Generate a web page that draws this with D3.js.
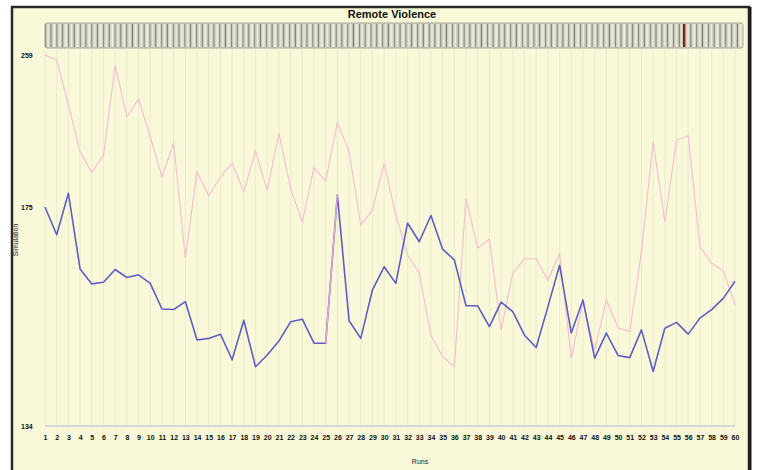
<!DOCTYPE html>
<html>
<head>
<meta charset="utf-8">
<script src="https://cdn.jsdelivr.net/npm/d3@7"></script>
<style>
  html, body { margin: 0; padding: 0; background: #ffffff; }
  svg { display: block; }
</style>
</head>
<body>
<div id="chart"></div>
<script>
// -------------------------------
// Remote Violence - simulation runs (line chart)
// -------------------------------

const runs = [1, 2, 3, 4, 5, 6, 7, 8, 9, 10, 11, 12, 13, 14, 15, 16, 17, 18, 19, 20,
  21, 22, 23, 24, 25, 26, 27, 28, 29, 30, 31, 32, 33, 34, 35, 36, 37, 38, 39, 40,
  41, 42, 43, 44, 45, 46, 47, 48, 49, 50, 51, 52, 53, 54, 55, 56, 57, 58, 59, 60];

// blue series
const simulated = [175, 169.8, 182.6, 163.4, 160.6, 160.9, 163.3, 161.8, 162.3, 160.7,
  155.9, 155.8, 157.3, 150.1, 150.4, 151.2, 146.4, 153.8, 145.1, 147.3,
  149.9, 153.5, 154.0, 149.5, 149.5, 181.6, 153.7, 150.4, 159.5, 163.8,
  160.7, 172.0, 168.5, 173.4, 167.1, 165.1, 156.5, 156.5, 152.6, 157.2,
  155.4, 151.0, 148.7, 156.3, 164.1, 151.4, 157.6, 146.7, 151.4, 147.2,
  146.8, 152.0, 144.2, 152.3, 153.4, 151.2, 154.2, 155.8, 157.9, 161.1];

// pink series
const observed = [259, 256.2, 231.4, 205.6, 194.0, 203.7, 253.1, 224.9, 234.5, 213.8,
  191.7, 210.2, 165.4, 194.5, 181.1, 191.7, 199.1, 183.5, 205.9, 184.0,
  215.7, 185.3, 172.2, 196.7, 189.4, 221.8, 205.6, 171.6, 174.4, 199.1,
  173.5, 166.0, 162.6, 151.0, 147.0, 145.1, 179.8, 167.3, 169.0, 152.0,
  162.6, 165.3, 165.3, 161.3, 166.3, 146.7, 157.3, 148.2, 157.6, 152.4,
  151.7, 166.6, 211.1, 172.2, 212.0, 214.4, 167.6, 164.5, 163.0, 156.7];

const yTicks = [134, 175, 259];
const selectedRun = 56;

const W = 761, H = 470;

const svg = d3.select("#chart")
  .append("svg")
  .attr("width", W)
  .attr("height", H);

const defs = svg.append("defs");
const cellGrad = defs.append("linearGradient")
  .attr("id", "cellGrad")
  .attr("x1", "0").attr("x2", "1").attr("y1", "0").attr("y2", "0");
[["0%", "#5f5f55"], ["9%", "#c4c4b4"], ["28%", "#ecece0"], ["46%", "#bdbdad"],
 ["52%", "#77776b"], ["60%", "#cfcfbf"], ["80%", "#efefe4"], ["100%", "#c2c2b2"]]
  .forEach(s => cellGrad.append("stop").attr("offset", s[0]).attr("stop-color", s[1]));

// frame
svg.append("rect")
  .attr("x", 12).attr("y", 7)
  .attr("width", 737).attr("height", 470)
  .attr("fill", "#f9f8d8")
  .attr("stroke", "#2a2a2a")
  .attr("stroke-width", 2.5);
svg.append("line")
  .attr("x1", 750).attr("x2", 750).attr("y1", 7).attr("y2", H)
  .attr("stroke", "#1c1c24").attr("stroke-width", 3);

// Title
svg.append("text")
  .attr("x", 392).attr("y", 18)
  .attr("text-anchor", "middle")
  .style("font-family", "Liberation Sans, Arial, sans-serif")
  .style("font-size", "11px")
  .style("font-weight", "bold")
  .style("fill", "#111")
  .text("Remote Violence");

// Scales
const x = d3.scalePoint()
  .domain(runs)
  .range([45, 735]);

const y = d3.scaleLinear()
  .domain([134, 175, 259])
  .range([426, 207, 55]);

// run strip
const strip = d3.scaleBand()
  .domain(runs)
  .range([45, 743]);

const stripG = svg.append("g");
stripG.append("rect")
  .attr("x", 45).attr("y", 23)
  .attr("width", 698).attr("height", 25)
  .attr("rx", 2)
  .attr("fill", "#d6d6c6")
  .attr("stroke", "#a4a494");
stripG.selectAll(".cell")
  .data(runs)
  .enter()
  .append("rect")
  .attr("class", "cell")
  .attr("x", d => strip(d))
  .attr("y", 24)
  .attr("width", strip.bandwidth())
  .attr("height", 23)
  .attr("fill", "url(#cellGrad)");
stripG.append("rect")
  .attr("x", strip(selectedRun) - 2)
  .attr("y", 24)
  .attr("width", 2)
  .attr("height", 23)
  .attr("fill", "#7a1010");

// vertical grid
svg.append("g")
  .selectAll("line")
  .data(runs)
  .enter()
  .append("line")
  .attr("x1", d => x(d)).attr("x2", d => x(d))
  .attr("y1", 50).attr("y2", y(134))
  .attr("stroke", "#ebedd3")
  .attr("stroke-width", 1.2);

// baseline
svg.append("line")
  .attr("x1", x(1)).attr("x2", x(60))
  .attr("y1", y(134)).attr("y2", y(134))
  .attr("stroke", "#b6b6dc")
  .attr("stroke-width", 1.2);

// X axis
svg.append("g")
  .attr("transform", `translate(0, ${y(134)})`)
  .call(d3.axisBottom(x).tickSize(0).tickPadding(9))
  .call(g => g.select(".domain").remove())
  .selectAll("text")
  .style("font-family", "Liberation Sans, Arial, sans-serif")
  .style("font-size", "7px")
  .style("font-weight", "bold")
  .style("fill", "#111");

// Y axis
svg.append("g")
  .attr("transform", "translate(21, 0)")
  .call(d3.axisLeft(y).tickValues(yTicks).tickSize(0))
  .call(g => g.select(".domain").remove())
  .selectAll("text")
  .attr("x", 0)
  .attr("text-anchor", "start")
  .style("font-family", "Liberation Sans, Arial, sans-serif")
  .style("font-size", "7px")
  .style("font-weight", "bold")
  .style("fill", "#111");

// axis labels
svg.append("text")
  .attr("transform", "rotate(-90)")
  .attr("x", -240).attr("y", 18)
  .attr("text-anchor", "middle")
  .style("font-family", "Liberation Sans, Arial, sans-serif")
  .style("font-size", "7px")
  .style("fill", "#222")
  .text("Simulation");

svg.append("text")
  .attr("x", 420).attr("y", 464)
  .attr("text-anchor", "middle")
  .style("font-family", "Liberation Sans, Arial, sans-serif")
  .style("font-size", "7px")
  .style("fill", "#222")
  .text("Runs");

// Lines
const line = d3.line()
  .x((d, i) => x(runs[i]))
  .y(d => y(d));

svg.append("path")
  .datum(observed)
  .attr("fill", "none")
  .attr("stroke", "#f5bccf")
  .attr("stroke-width", 1.1)
  .attr("d", line);

svg.append("path")
  .datum(simulated)
  .attr("fill", "none")
  .attr("stroke", "#5e5ec6")
  .attr("stroke-width", 1.6)
  .attr("stroke-linejoin", "round")
  .attr("d", line);

// segment 25 -> 26 shows in pink in the original
svg.append("line")
  .attr("x1", x(25)).attr("y1", y(simulated[24]))
  .attr("x2", x(26)).attr("y2", y(simulated[25]))
  .attr("stroke", "#e6a8d0")
  .attr("stroke-width", 1.4);
</script>
</body>
</html>
